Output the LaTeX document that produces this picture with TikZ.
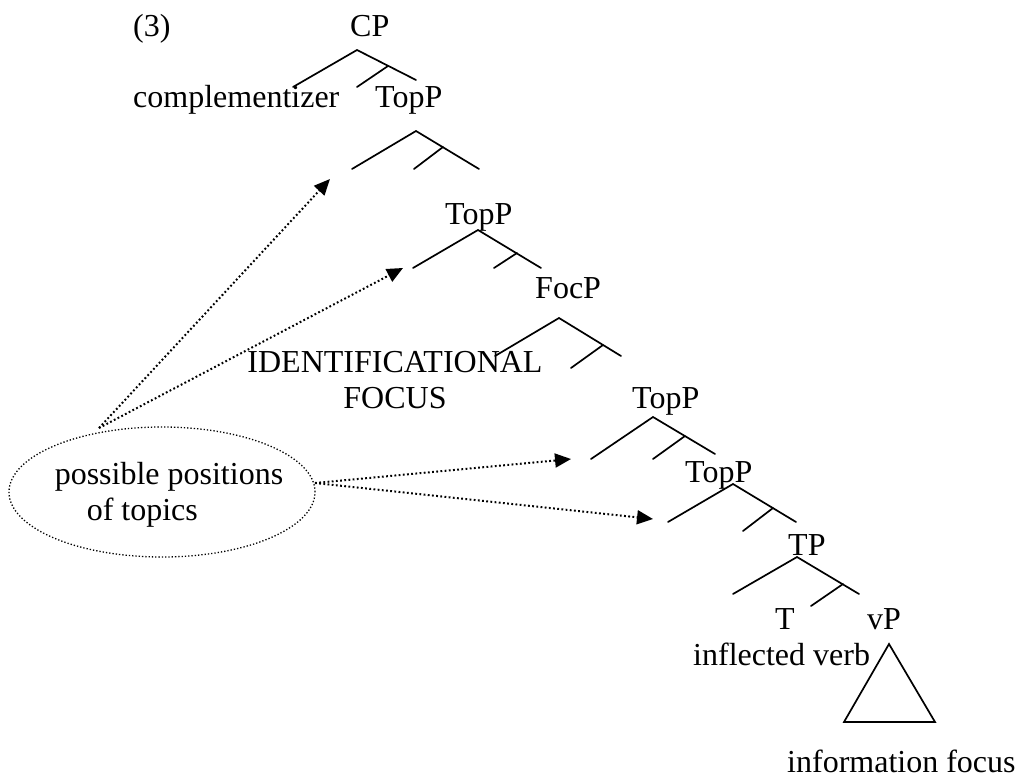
\documentclass[tikz,border=0pt]{standalone}
\usepackage{fontspec}
\setmainfont{Liberation Serif}
\usetikzlibrary{shapes.geometric,arrows.meta}
\begin{document}
\begin{tikzpicture}[x=1pt,y=-1pt,
  every node/.style={font=\fontsize{32}{36}\selectfont, inner sep=0pt},
  lbl/.style={anchor=base west},
  branch/.style={line width=1.7pt, line cap=round},
  ptr/.style={line width=2pt, dash pattern=on 1.8pt off 2.4pt, -{Triangle[length=16pt,width=14pt]}},
  bubble/.style={ellipse, draw, line width=1.3pt, dash pattern=on 1.3pt off 2pt, minimum width=306pt, minimum height=130pt}
]
\useasboundingbox (0,0) rectangle (1016,778);

% labels
\node[lbl] (ex) at (133,37) {(3)};
\node[lbl] (cp) at (350,37) {CP};
\node[lbl] (comp) at (133,108) {complementizer};
\node[lbl] (top1) at (375,108) {TopP};
\node[lbl] (top2) at (445,224) {TopP};
\node[lbl] (foc) at (535,298) {FocP};
\node[align=center] (idf) at (395,380) {IDENTIFICATIONAL\\FOCUS};
\node[lbl] (top3) at (632,408) {TopP};
\node[lbl] (top4) at (685,482) {TopP};
\node[lbl] (tp) at (788,555) {TP};
\node[lbl] (t) at (775,629) {T};
\node[lbl] (vp) at (867,629) {vP};
\node[lbl] (infl) at (693,665) {inflected verb};
\node[lbl] (inff) at (787,772) {information focus};

% tree branches
\coordinate (cpA) at (357,50); \coordinate (cpL) at (293,87); \coordinate (cpR) at (416,80);
\coordinate (cpT1) at (388,66); \coordinate (cpT2) at (357,87);
\draw[branch] (cpL) -- (cpA) -- (cpR); \draw[branch] (cpT1) -- (cpT2);

\coordinate (t1A) at (416,131); \coordinate (t1L) at (352,169); \coordinate (t1R) at (479,169);
\coordinate (t1T1) at (443,147); \coordinate (t1T2) at (414,169);
\draw[branch] (t1L) -- (t1A) -- (t1R); \draw[branch] (t1T1) -- (t1T2);

\coordinate (t2A) at (478,230); \coordinate (t2L) at (413,268); \coordinate (t2R) at (541,268);
\coordinate (t2T1) at (517,253); \coordinate (t2T2) at (494,268);
\draw[branch] (t2L) -- (t2A) -- (t2R); \draw[branch] (t2T1) -- (t2T2);

\coordinate (fA) at (559,318); \coordinate (fL) at (495,356); \coordinate (fR) at (621,356);
\coordinate (fT1) at (603,345); \coordinate (fT2) at (571,368);
\draw[branch] (fL) -- (fA) -- (fR); \draw[branch] (fT1) -- (fT2);

\coordinate (t3A) at (653,417); \coordinate (t3L) at (591,459); \coordinate (t3R) at (715,454);
\coordinate (t3T1) at (685,436); \coordinate (t3T2) at (653,459);
\draw[branch] (t3L) -- (t3A) -- (t3R); \draw[branch] (t3T1) -- (t3T2);

\coordinate (t4A) at (733,484); \coordinate (t4L) at (668,522); \coordinate (t4R) at (796,522);
\coordinate (t4T1) at (773,508); \coordinate (t4T2) at (743,531);
\draw[branch] (t4L) -- (t4A) -- (t4R); \draw[branch] (t4T1) -- (t4T2);

\coordinate (tpA) at (797,557); \coordinate (tpL) at (733,594); \coordinate (tpR) at (859,594);
\coordinate (tpT1) at (843,584); \coordinate (tpT2) at (811,606);
\draw[branch] (tpL) -- (tpA) -- (tpR); \draw[branch] (tpT1) -- (tpT2);

\coordinate (trA) at (889,644); \coordinate (trL) at (844,722); \coordinate (trR) at (935,722);
\draw[line width=1.7pt, line join=miter] (trA) -- (trL) -- (trR) -- cycle;

% ellipse and pointers
\node[bubble] (el) at (162,492) {};
\node[align=left] (pp) at (162,495) {\hspace*{14pt}possible positions\\\hspace*{46pt}of topics};
\coordinate (s1) at (99,428);
\coordinate (s2) at (315,483);
\coordinate (a1) at (330,179);
\coordinate (a2) at (403,268);
\coordinate (a3) at (571,459);
\coordinate (a4) at (653,519);
\draw[ptr] (s1) -- (a1);
\draw[ptr] (s1) -- (a2);
\draw[ptr] (s2) -- (a3);
\draw[ptr] (s2) -- (a4);
\end{tikzpicture}
\end{document}
